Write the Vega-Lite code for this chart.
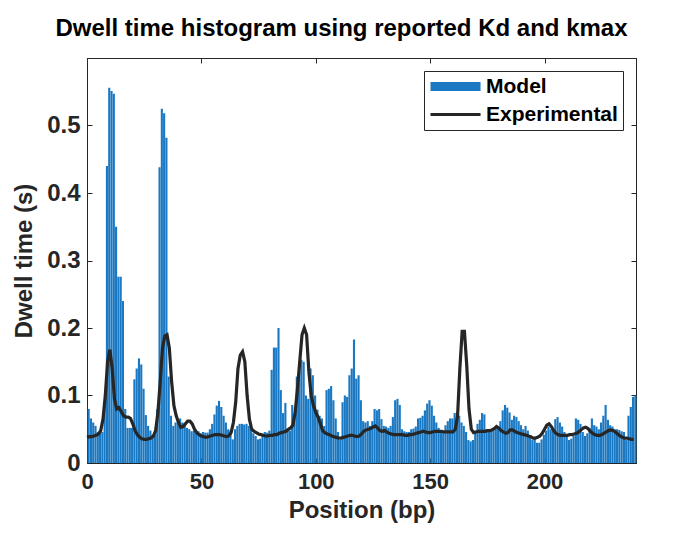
{
  "$schema": "https://vega.github.io/schema/vega-lite/v6.json",
  "width": 549,
  "height": 405,
  "autosize": {"type": "none"},
  "padding": {"left": 87, "top": 58, "right": 46, "bottom": 72},
  "background": "white",
  "title": {"text": "Dwell time histogram using reported Kd and kmax", "font": "Liberation Sans", "fontSize": 24, "fontWeight": "bold", "color": "#000000", "offset": 17, "anchor": "middle", "dx": -20},
  "config": {
    "view": {"stroke": "#262626", "strokeWidth": 1},
    "axis": {"grid": false, "domainColor": "#262626", "tickColor": "#262626", "tickSize": -5, "labelFont": "Liberation Sans", "labelFontWeight": "bold", "labelColor": "#262626", "titleFont": "Liberation Sans", "titleFontWeight": "bold", "titleColor": "#262626", "titleFontSize": 24, "labelFlush": false, "labelOverlap": false, "zindex": 1}
  },
  "data": {"values": [
{"pos":0,"model":0.080,"exp":0.038},{"pos":1,"model":0.066,"exp":0.039},{"pos":2,"model":0.060,"exp":0.039},{"pos":3,"model":0.055,"exp":0.040},{"pos":4,"model":0.046,"exp":0.041},{"pos":5,"model":0.045,"exp":0.043},{"pos":6,"model":0.046,"exp":0.048},{"pos":7,"model":0.085,"exp":0.065},{"pos":8,"model":0.440,"exp":0.100},{"pos":9,"model":0.556,"exp":0.150},
{"pos":10,"model":0.551,"exp":0.168},{"pos":11,"model":0.547,"exp":0.140},{"pos":12,"model":0.350,"exp":0.095},{"pos":13,"model":0.276,"exp":0.080},{"pos":14,"model":0.276,"exp":0.082},{"pos":15,"model":0.240,"exp":0.076},{"pos":16,"model":0.080,"exp":0.070},{"pos":17,"model":0.052,"exp":0.068},{"pos":18,"model":0.052,"exp":0.068},{"pos":19,"model":0.052,"exp":0.066},
{"pos":20,"model":0.124,"exp":0.058},{"pos":21,"model":0.140,"exp":0.048},{"pos":22,"model":0.155,"exp":0.042},{"pos":23,"model":0.146,"exp":0.038},{"pos":24,"model":0.110,"exp":0.036},{"pos":25,"model":0.071,"exp":0.035},{"pos":26,"model":0.055,"exp":0.035},{"pos":27,"model":0.048,"exp":0.036},{"pos":28,"model":0.042,"exp":0.037},{"pos":29,"model":0.042,"exp":0.040},
{"pos":30,"model":0.080,"exp":0.048},{"pos":31,"model":0.438,"exp":0.075},{"pos":32,"model":0.525,"exp":0.120},{"pos":33,"model":0.518,"exp":0.170},{"pos":34,"model":0.482,"exp":0.188},{"pos":35,"model":0.128,"exp":0.190},{"pos":36,"model":0.070,"exp":0.170},{"pos":37,"model":0.055,"exp":0.120},{"pos":38,"model":0.060,"exp":0.085},{"pos":39,"model":0.062,"exp":0.070},
{"pos":40,"model":0.066,"exp":0.060},{"pos":41,"model":0.060,"exp":0.053},{"pos":42,"model":0.055,"exp":0.054},{"pos":43,"model":0.052,"exp":0.058},{"pos":44,"model":0.050,"exp":0.062},{"pos":45,"model":0.047,"exp":0.062},{"pos":46,"model":0.048,"exp":0.058},{"pos":47,"model":0.045,"exp":0.050},{"pos":48,"model":0.047,"exp":0.045},{"pos":49,"model":0.044,"exp":0.042},
{"pos":50,"model":0.046,"exp":0.040},{"pos":51,"model":0.045,"exp":0.039},{"pos":52,"model":0.045,"exp":0.038},{"pos":53,"model":0.050,"exp":0.039},{"pos":54,"model":0.058,"exp":0.040},{"pos":55,"model":0.072,"exp":0.041},{"pos":56,"model":0.085,"exp":0.042},{"pos":57,"model":0.092,"exp":0.042},{"pos":58,"model":0.083,"exp":0.042},{"pos":59,"model":0.070,"exp":0.041},
{"pos":60,"model":0.060,"exp":0.040},{"pos":61,"model":0.050,"exp":0.039},{"pos":62,"model":0.048,"exp":0.040},{"pos":63,"model":0.035,"exp":0.045},{"pos":64,"model":0.050,"exp":0.060},{"pos":65,"model":0.055,"exp":0.090},{"pos":66,"model":0.058,"exp":0.140},{"pos":67,"model":0.058,"exp":0.160},{"pos":68,"model":0.057,"exp":0.165},{"pos":69,"model":0.058,"exp":0.150},
{"pos":70,"model":0.055,"exp":0.100},{"pos":71,"model":0.050,"exp":0.065},{"pos":72,"model":0.044,"exp":0.050},{"pos":73,"model":0.040,"exp":0.047},{"pos":74,"model":0.035,"exp":0.045},{"pos":75,"model":0.036,"exp":0.043},{"pos":76,"model":0.042,"exp":0.042},{"pos":77,"model":0.046,"exp":0.041},{"pos":78,"model":0.045,"exp":0.040},{"pos":79,"model":0.048,"exp":0.040},
{"pos":80,"model":0.138,"exp":0.041},{"pos":81,"model":0.171,"exp":0.041},{"pos":82,"model":0.171,"exp":0.042},{"pos":83,"model":0.200,"exp":0.042},{"pos":84,"model":0.108,"exp":0.044},{"pos":85,"model":0.074,"exp":0.045},{"pos":86,"model":0.089,"exp":0.046},{"pos":87,"model":0.050,"exp":0.047},{"pos":88,"model":0.048,"exp":0.050},{"pos":89,"model":0.086,"exp":0.052},
{"pos":90,"model":0.069,"exp":0.056},{"pos":91,"model":0.128,"exp":0.075},{"pos":92,"model":0.130,"exp":0.110},{"pos":93,"model":0.153,"exp":0.150},{"pos":94,"model":0.150,"exp":0.190},{"pos":95,"model":0.100,"exp":0.200},{"pos":96,"model":0.095,"exp":0.190},{"pos":97,"model":0.140,"exp":0.135},{"pos":98,"model":0.130,"exp":0.100},{"pos":99,"model":0.100,"exp":0.085},
{"pos":100,"model":0.079,"exp":0.075},{"pos":101,"model":0.070,"exp":0.068},{"pos":102,"model":0.066,"exp":0.058},{"pos":103,"model":0.055,"exp":0.048},{"pos":104,"model":0.108,"exp":0.045},{"pos":105,"model":0.110,"exp":0.043},{"pos":106,"model":0.114,"exp":0.042},{"pos":107,"model":0.093,"exp":0.040},{"pos":108,"model":0.066,"exp":0.039},{"pos":109,"model":0.046,"exp":0.038},
{"pos":110,"model":0.034,"exp":0.037},{"pos":111,"model":0.090,"exp":0.037},{"pos":112,"model":0.100,"exp":0.038},{"pos":113,"model":0.098,"exp":0.039},{"pos":114,"model":0.130,"exp":0.040},{"pos":115,"model":0.140,"exp":0.041},{"pos":116,"model":0.183,"exp":0.041},{"pos":117,"model":0.125,"exp":0.040},{"pos":118,"model":0.130,"exp":0.039},{"pos":119,"model":0.093,"exp":0.040},
{"pos":120,"model":0.062,"exp":0.043},{"pos":121,"model":0.060,"exp":0.047},{"pos":122,"model":0.062,"exp":0.049},{"pos":123,"model":0.055,"exp":0.050},{"pos":124,"model":0.062,"exp":0.051},{"pos":125,"model":0.080,"exp":0.053},{"pos":126,"model":0.078,"exp":0.055},{"pos":127,"model":0.080,"exp":0.052},{"pos":128,"model":0.065,"exp":0.048},{"pos":129,"model":0.055,"exp":0.047},
{"pos":130,"model":0.054,"exp":0.048},{"pos":131,"model":0.052,"exp":0.046},{"pos":132,"model":0.055,"exp":0.044},{"pos":133,"model":0.068,"exp":0.043},{"pos":134,"model":0.093,"exp":0.042},{"pos":135,"model":0.095,"exp":0.042},{"pos":136,"model":0.086,"exp":0.042},{"pos":137,"model":0.050,"exp":0.042},{"pos":138,"model":0.047,"exp":0.042},{"pos":139,"model":0.046,"exp":0.041},
{"pos":140,"model":0.046,"exp":0.041},{"pos":141,"model":0.050,"exp":0.042},{"pos":142,"model":0.051,"exp":0.042},{"pos":143,"model":0.054,"exp":0.043},{"pos":144,"model":0.066,"exp":0.044},{"pos":145,"model":0.067,"exp":0.045},{"pos":146,"model":0.070,"exp":0.046},{"pos":147,"model":0.078,"exp":0.047},{"pos":148,"model":0.088,"exp":0.046},{"pos":149,"model":0.093,"exp":0.045},
{"pos":150,"model":0.085,"exp":0.045},{"pos":151,"model":0.070,"exp":0.046},{"pos":152,"model":0.060,"exp":0.047},{"pos":153,"model":0.052,"exp":0.047},{"pos":154,"model":0.047,"exp":0.047},{"pos":155,"model":0.046,"exp":0.047},{"pos":156,"model":0.056,"exp":0.046},{"pos":157,"model":0.062,"exp":0.046},{"pos":158,"model":0.066,"exp":0.046},{"pos":159,"model":0.066,"exp":0.046},
{"pos":160,"model":0.074,"exp":0.046},{"pos":161,"model":0.075,"exp":0.050},{"pos":162,"model":0.070,"exp":0.070},{"pos":163,"model":0.060,"exp":0.140},{"pos":164,"model":0.055,"exp":0.195},{"pos":165,"model":0.046,"exp":0.195},{"pos":166,"model":0.034,"exp":0.145},{"pos":167,"model":0.032,"exp":0.080},{"pos":168,"model":0.034,"exp":0.050},{"pos":169,"model":0.045,"exp":0.045},
{"pos":170,"model":0.058,"exp":0.046},{"pos":171,"model":0.064,"exp":0.047},{"pos":172,"model":0.074,"exp":0.047},{"pos":173,"model":0.072,"exp":0.047},{"pos":174,"model":0.050,"exp":0.047},{"pos":175,"model":0.048,"exp":0.048},{"pos":176,"model":0.050,"exp":0.048},{"pos":177,"model":0.050,"exp":0.049},{"pos":178,"model":0.052,"exp":0.051},{"pos":179,"model":0.054,"exp":0.054},
{"pos":180,"model":0.062,"exp":0.052},{"pos":181,"model":0.078,"exp":0.048},{"pos":182,"model":0.086,"exp":0.046},{"pos":183,"model":0.082,"exp":0.044},{"pos":184,"model":0.075,"exp":0.045},{"pos":185,"model":0.064,"exp":0.049},{"pos":186,"model":0.070,"exp":0.049},{"pos":187,"model":0.068,"exp":0.047},{"pos":188,"model":0.062,"exp":0.045},{"pos":189,"model":0.056,"exp":0.044},
{"pos":190,"model":0.050,"exp":0.043},{"pos":191,"model":0.055,"exp":0.042},{"pos":192,"model":0.048,"exp":0.041},{"pos":193,"model":0.040,"exp":0.040},{"pos":194,"model":0.034,"exp":0.039},{"pos":195,"model":0.036,"exp":0.037},{"pos":196,"model":0.030,"exp":0.037},{"pos":197,"model":0.030,"exp":0.038},{"pos":198,"model":0.035,"exp":0.040},{"pos":199,"model":0.042,"exp":0.044},
{"pos":200,"model":0.048,"exp":0.050},{"pos":201,"model":0.054,"exp":0.056},{"pos":202,"model":0.050,"exp":0.058},{"pos":203,"model":0.052,"exp":0.054},{"pos":204,"model":0.065,"exp":0.048},{"pos":205,"model":0.068,"exp":0.044},{"pos":206,"model":0.060,"exp":0.042},{"pos":207,"model":0.054,"exp":0.041},{"pos":208,"model":0.046,"exp":0.041},{"pos":209,"model":0.042,"exp":0.041},
{"pos":210,"model":0.034,"exp":0.041},{"pos":211,"model":0.036,"exp":0.042},{"pos":212,"model":0.040,"exp":0.042},{"pos":213,"model":0.066,"exp":0.043},{"pos":214,"model":0.064,"exp":0.044},{"pos":215,"model":0.058,"exp":0.046},{"pos":216,"model":0.046,"exp":0.049},{"pos":217,"model":0.040,"exp":0.052},{"pos":218,"model":0.044,"exp":0.053},{"pos":219,"model":0.052,"exp":0.051},
{"pos":220,"model":0.066,"exp":0.047},{"pos":221,"model":0.056,"exp":0.044},{"pos":222,"model":0.054,"exp":0.042},{"pos":223,"model":0.050,"exp":0.041},{"pos":224,"model":0.060,"exp":0.041},{"pos":225,"model":0.070,"exp":0.042},{"pos":226,"model":0.086,"exp":0.044},{"pos":227,"model":0.064,"exp":0.046},{"pos":228,"model":0.056,"exp":0.048},{"pos":229,"model":0.054,"exp":0.049},
{"pos":230,"model":0.050,"exp":0.048},{"pos":231,"model":0.050,"exp":0.046},{"pos":232,"model":0.049,"exp":0.043},{"pos":233,"model":0.047,"exp":0.040},{"pos":234,"model":0.046,"exp":0.038},{"pos":235,"model":0.034,"exp":0.037},{"pos":236,"model":0.070,"exp":0.037},{"pos":237,"model":0.083,"exp":0.036},{"pos":238,"model":0.098,"exp":0.035},{"pos":239,"model":0.100,"exp":0.035}
  ]},
  "layer": [
    {
      "mark": {"type": "bar", "binSpacing": 0.15},
      "encoding": {
        "x": {"field": "pos", "type": "quantitative", "bin": {"binned": true, "step": 1}, "scale": {"domain": [0, 240], "nice": false, "zero": false},
              "axis": {"orient": "bottom", "values": [0, 50, 100, 150, 200], "title": "Position (bp)", "labelFontSize": 22, "labelPadding": 13, "titlePadding": 6}},
        "y": {"field": "model", "type": "quantitative", "scale": {"domain": [0, 0.6], "nice": false},
              "axis": {"orient": "left", "values": [0, 0.1, 0.2, 0.3, 0.4, 0.5], "format": "~g", "title": "Dwell time (s)", "labelFontSize": 24, "labelPadding": 12, "titlePadding": 10}},
        "color": {"datum": "Model", "type": "nominal",
                  "scale": {"domain": ["Model", "Experimental"], "range": ["#1b78c2", "#262626"]},
                  "legend": {"title": null, "orient": "top-right", "offset": 13, "padding": 5, "strokeColor": "#262626", "fillColor": "white",
                             "labelFont": "Liberation Sans", "labelFontSize": 21, "labelFontWeight": "bold", "labelColor": "#000000",
                             "symbolSize": 324, "rowPadding": 6, "labelOffset": 36, "symbolStrokeWidth": 0,
                             "encode": {"symbols": {"update": {
                               "shape": {"signal": "datum.value === 'Model' ? 'M-1,-0.5H4.56V0.5H-1Z' : 'M-1,-0.17H4.56V0.17H-1Z'"},
                               "fill": {"signal": "datum.value === 'Model' ? '#1b78c2' : '#262626'"},
                               "strokeWidth": {"value": 0},
                               "opacity": {"value": 1}}}}}}
      }
    },
    {
      "mark": {"type": "line", "strokeWidth": 3.2},
      "encoding": {
        "x": {"field": "pos", "type": "quantitative", "axis": {"orient": "top", "values": [0, 50, 100, 150, 200], "labels": false, "title": null}},
        "y": {"field": "exp", "type": "quantitative", "axis": {"orient": "right", "values": [0, 0.1, 0.2, 0.3, 0.4, 0.5], "labels": false, "title": null}},
        "color": {"datum": "Experimental", "type": "nominal"}
      }
    }
  ]
}
